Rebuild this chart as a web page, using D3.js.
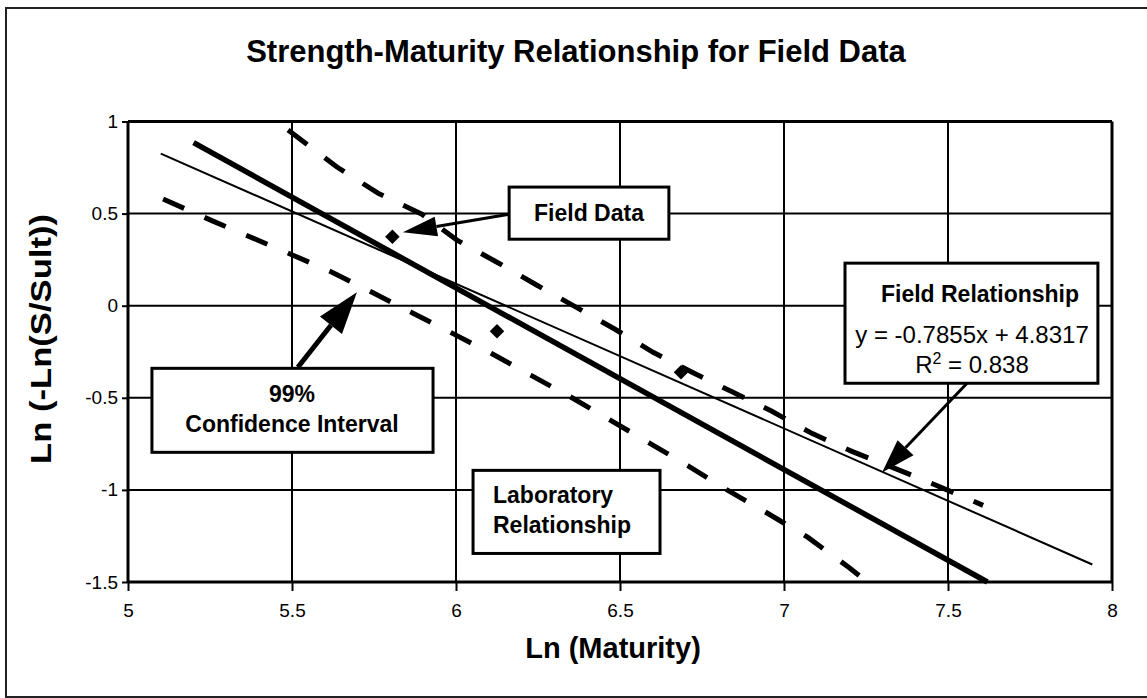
<!DOCTYPE html>
<html>
<head>
<meta charset="utf-8">
<script src="https://cdn.jsdelivr.net/npm/d3@7"></script>
<style>
  body { margin: 0; background: #fff; }
  svg { display: block; font-family: "Liberation Sans", Arial, sans-serif; }
</style>
</head>
<body>
<div id="chart"></div>
<script>
// values
var xTicks = [5, 5.5, 6, 6.5, 7, 7.5, 8];
var yTicks = [-1.5, -1, -0.5, 0, 0.5, 1];

// field data points
var fieldX = [5.806, 6.125, 6.686];
var fieldY = [0.374, -0.139, -0.361];

// field relationship trendline (y = -0.7855x + 4.8317)
var fieldLineX = [5.1, 7.94];
var fieldLineY = [0.826, -1.405];

// laboratory relationship
var labX = [5.2, 7.62];
var labY = [0.885, -1.5];

// 99% confidence interval, upper and lower
var upperX = [5.488, 5.637, 5.762, 5.896, 6.003, 6.125, 6.247, 6.366, 6.485, 6.601, 6.726, 6.845, 6.963, 7.085, 7.207, 7.338, 7.451, 7.607];
var upperY = [0.954, 0.753, 0.611, 0.497, 0.356, 0.236, 0.111, -0.008, -0.128, -0.253, -0.367, -0.470, -0.573, -0.693, -0.791, -0.883, -0.965, -1.084];
var lowerX = [5.107, 5.259, 5.381, 5.503, 5.622, 5.744, 5.869, 5.988, 6.107, 6.229, 6.351, 6.466, 6.591, 6.710, 6.829, 6.951, 7.073, 7.198, 7.229];
var lowerY = [0.579, 0.459, 0.367, 0.274, 0.182, 0.073, -0.041, -0.149, -0.258, -0.378, -0.497, -0.617, -0.747, -0.872, -1.003, -1.128, -1.258, -1.421, -1.465];

function init() {
  var w = 1147;
  var h = 698;

  //Set up Scales
  var xScale = d3.scaleLinear()
    .domain([5, 8])
    .range([128, 1112]);
  var yScale = d3.scaleLinear()
    .domain([-1.5, 1])
    .range([582, 121.5]);

  var svg = d3.select("#chart")
    .append("svg")
    .attr("width", w)
    .attr("height", h);

  // outer frame (right side runs off the page)
  svg.append("rect")
    .attr("x", 6)
    .attr("y", 8)
    .attr("width", 1200)
    .attr("height", 689)
    .attr("fill", "#fff")
    .attr("stroke", "#222")
    .attr("stroke-width", 2);

  // title
  svg.append("text")
    .attr("x", 576)
    .attr("y", 62)
    .attr("text-anchor", "middle")
    .attr("font-size", "31px")
    .attr("font-weight", "bold")
    .text("Strength-Maturity Relationship for Field Data");

  // gridlines
  svg.append("g")
    .selectAll("line")
    .data(xTicks)
    .enter()
    .append("line")
    .attr("x1", function (d) { return xScale(d); })
    .attr("x2", function (d) { return xScale(d); })
    .attr("y1", yScale(1))
    .attr("y2", yScale(-1.5))
    .attr("stroke", "#000")
    .attr("stroke-width", function (d) { return d == 5 || d == 8 ? 3 : 2; });

  svg.append("g")
    .selectAll("line")
    .data(yTicks)
    .enter()
    .append("line")
    .attr("x1", xScale(5))
    .attr("x2", xScale(8))
    .attr("y1", function (d) { return yScale(d); })
    .attr("y2", function (d) { return yScale(d); })
    .attr("stroke", "#000")
    .attr("stroke-width", function (d) { return d == 1 || d == -1.5 ? 3 : 2; });

  //Add x axis
  var xAxis = svg.append("g")
    .attr("transform", "translate(0," + yScale(-1.5) + ")")
    .call(d3.axisBottom(xScale)
      .tickValues(xTicks)
      .tickSize(9)
      .tickPadding(13)
      .tickFormat(function (d) { return String(d); }));
  xAxis.select(".domain").remove();
  xAxis.selectAll("line").attr("stroke-width", 2);
  xAxis.selectAll("text")
    .attr("font-size", "19px")
    .attr("font-family", "Liberation Sans, Arial, sans-serif");

  //Add y axis
  var yAxis = svg.append("g")
    .attr("transform", "translate(" + xScale(5) + ",0)")
    .call(d3.axisLeft(yScale)
      .tickValues(yTicks)
      .tickSize(6)
      .tickPadding(4)
      .tickFormat(function (d) { return String(d); }));
  yAxis.select(".domain").remove();
  yAxis.selectAll("line").attr("stroke-width", 2);
  yAxis.selectAll("text")
    .attr("font-size", "19px")
    .attr("font-family", "Liberation Sans, Arial, sans-serif");

  // axis titles
  svg.append("text")
    .attr("x", 613)
    .attr("y", 658)
    .attr("text-anchor", "middle")
    .attr("font-size", "29px")
    .attr("font-weight", "bold")
    .text("Ln (Maturity)");

  svg.append("text")
    .attr("transform", "translate(51,339) rotate(-90)")
    .attr("text-anchor", "middle")
    .attr("font-size", "30px")
    .attr("font-weight", "bold")
    .attr("textLength", 250)
    .attr("lengthAdjust", "spacingAndGlyphs")
    .text("Ln (-Ln(S/Sult))");

  //Set up line
  var line = d3.line()
    .x(function (d) { return xScale(d[0]); })
    .y(function (d) { return yScale(d[1]); });

  function zip(xs, ys) {
    return xs.map(function (x, i) { return [x, ys[i]]; });
  }

  // confidence interval
  svg.append("path")
    .datum(zip(upperX, upperY))
    .attr("d", line)
    .attr("fill", "none")
    .attr("stroke", "#000")
    .attr("stroke-width", 5)
    .attr("stroke-dasharray", "24,22");
  svg.append("path")
    .datum(zip(lowerX, lowerY))
    .attr("d", line)
    .attr("fill", "none")
    .attr("stroke", "#000")
    .attr("stroke-width", 5)
    .attr("stroke-dasharray", "23,22.3");

  // laboratory relationship
  svg.append("path")
    .datum(zip(labX, labY))
    .attr("d", line)
    .attr("fill", "none")
    .attr("stroke", "#000")
    .attr("stroke-width", 5.5);

  // field trendline
  svg.append("path")
    .datum(zip(fieldLineX, fieldLineY))
    .attr("d", line)
    .attr("fill", "none")
    .attr("stroke", "#000")
    .attr("stroke-width", 2);

  // field data diamonds
  svg.append("g")
    .selectAll("path")
    .data(zip(fieldX, fieldY))
    .enter()
    .append("path")
    .attr("d", d3.symbol().type(d3.symbolSquare).size(105))
    .attr("transform", function (d) {
      return "translate(" + xScale(d[0]) + "," + yScale(d[1]) + ") rotate(45)";
    })
    .attr("fill", "#000");

  // arrows, in data units
  function arrow(x1, y1, x2, y2, width, headLen, headW) {
    var ax = xScale(x1), ay = yScale(y1), bx = xScale(x2), by = yScale(y2);
    var len = Math.sqrt((bx - ax) * (bx - ax) + (by - ay) * (by - ay));
    var ux = (bx - ax) / len, uy = (by - ay) / len;
    var cx = bx - ux * headLen, cy = by - uy * headLen;
    svg.append("line")
      .attr("x1", ax)
      .attr("y1", ay)
      .attr("x2", cx)
      .attr("y2", cy)
      .attr("stroke", "#000")
      .attr("stroke-width", width);
    svg.append("polygon")
      .attr("points", [
        [bx, by],
        [cx - uy * headW, cy + ux * headW],
        [cx + uy * headW, cy - ux * headW]
      ].join(" "))
      .attr("fill", "#000");
  }

  arrow(6.162, 0.497, 5.838, 0.399, 3, 34, 10);
  arrow(5.518, -0.334, 5.698, 0.073, 5, 42, 14);
  arrow(7.558, -0.421, 7.299, -0.905, 3, 34, 11);

  // text boxes, in data units
  function box(x0, y0, x1, y1) {
    svg.append("rect")
      .attr("x", xScale(x0))
      .attr("y", yScale(y0))
      .attr("width", xScale(x1) - xScale(x0))
      .attr("height", yScale(y1) - yScale(y0))
      .attr("fill", "#fff")
      .attr("stroke", "#000")
      .attr("stroke-width", 3);
  }

  function label(x, y, txt, anchor, size, weight) {
    return svg.append("text")
      .attr("x", x)
      .attr("y", y)
      .attr("text-anchor", anchor)
      .attr("font-size", size)
      .attr("font-weight", weight)
      .text(txt);
  }

  box(6.162, 0.644, 6.649, 0.361);
  label(589, 221, "Field Data", "middle", "23px", "bold");

  box(5.073, -0.340, 5.930, -0.796);
  label(292, 402, "99%", "middle", "23px", "bold");
  label(292, 432, "Confidence Interval", "middle", "23px", "bold");

  box(6.052, -0.894, 6.622, -1.345);
  label(493, 503, "Laboratory", "start", "23px", "bold");
  label(493, 533, "Relationship", "start", "23px", "bold");

  box(7.186, 0.231, 7.957, -0.421);
  label(980, 302, "Field Relationship", "middle", "23px", "bold");
  label(972, 343, "y = -0.7855x + 4.8317", "middle", "24px", "normal");
  var r2 = label(972, 373, "R", "middle", "24px", "normal");
  r2.append("tspan")
    .attr("dy", -9)
    .attr("font-size", "16px")
    .text("2");
  r2.append("tspan")
    .attr("dy", 9)
    .text(" = 0.838");
}

window.onload = function () {
  init();
}
</script>
</body>
</html>
